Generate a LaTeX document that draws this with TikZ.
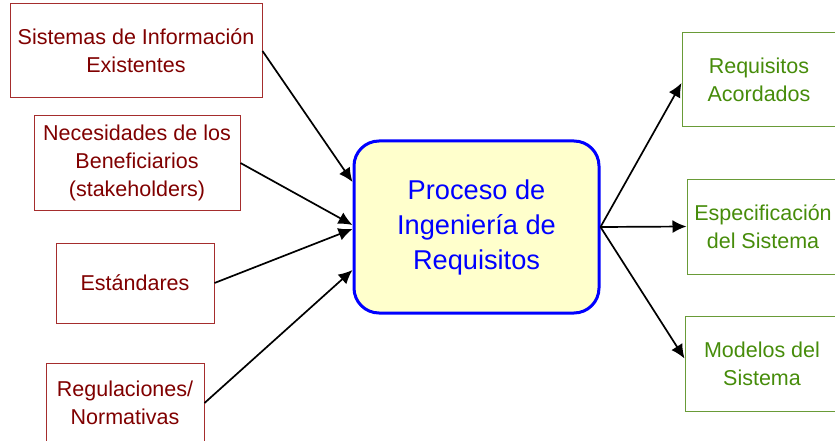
\documentclass[tikz,border=0pt]{standalone}
\usepackage{fontspec}
\setmainfont{Liberation Sans}
\usetikzlibrary{arrows.meta}
\usetikzlibrary{calc}
\tikzset{
	>=latex
}
\definecolor{rojo}{RGB}{128,0,0}
\definecolor{rojoborde}{RGB}{165,45,45}
\definecolor{verde}{RGB}{70,140,10}
\definecolor{verdeborde}{RGB}{105,155,55}
\definecolor{amarillo}{RGB}{255,255,204}
\tikzset{
	entrada/.style={draw=rojoborde, line width=1pt, text=rojo, align=center, inner sep=0pt, font=\fontsize{21.5}{28}\selectfont},
	salida/.style={draw=verdeborde, line width=1pt, text=verde, align=center, inner sep=0pt, font=\fontsize{21.5}{28}\selectfont},
	proceso/.style={draw=blue, fill=amarillo, line width=3pt, rounded corners=25pt, text=blue, align=center, inner sep=0pt, font=\fontsize{27.2}{35}\selectfont},
	flecha/.style={line width=1.7pt, -{Latex[length=14pt,width=13pt]}}
}

\begin{document}
\begin{tikzpicture}[x=1pt,y=-1pt]
	%\draw[help lines] (0,0) grid (835,441);
	\useasboundingbox (0,0) rectangle (835,441);
	\clip (0,0) rectangle (835,441);

	\node[proceso, minimum width=245pt, minimum height=172pt] (proc) at (476.5,227) {Proceso de\\Ingeniería de\\Requisitos};

	\node[entrada, minimum width=252pt, minimum height=94pt] (sis) at (136,51) {Sistemas de Información\\Existentes};
	\node[entrada, minimum width=206pt, minimum height=94pt] (nec) at (137,163) {Necesidades de los\\Beneficiarios\\(stakeholders)};
	\node[entrada, minimum width=158pt, minimum height=80pt] (est) at (135,283) {Estándares};
	\node[entrada, minimum width=158pt, minimum height=80pt] (reg) at (125,403) {Regulaciones/\\Normativas};

	\node[salida, minimum width=154pt, minimum height=94pt] (acu) at (759,80) {Requisitos\\Acordados};
	\node[salida, minimum width=152pt, minimum height=95pt] (esp) at (763,226.5) {Especificación\\del Sistema};
	\node[salida, minimum width=154pt, minimum height=95pt] (mod) at (762,363.5) {Modelos del\\Sistema};

	\draw[flecha] (sis.east) -- ($(proc.west)+(0,-45)$);
	\draw[flecha] (nec.east) -- ($(proc.west)+(0,-2)$);
	\draw[flecha] (est.east) -- ($(proc.west)+(0,2)$);
	\draw[flecha] (reg.east) -- ($(proc.west)+(0,43)$);

	\draw[flecha] (proc.east) -- ($(acu.west)+(0,3)$);
	\draw[flecha] (proc.east) -- (esp.west);
	\draw[flecha] (proc.east) -- ($(mod.west)+(0,-5)$);

\end{tikzpicture}
\end{document}
